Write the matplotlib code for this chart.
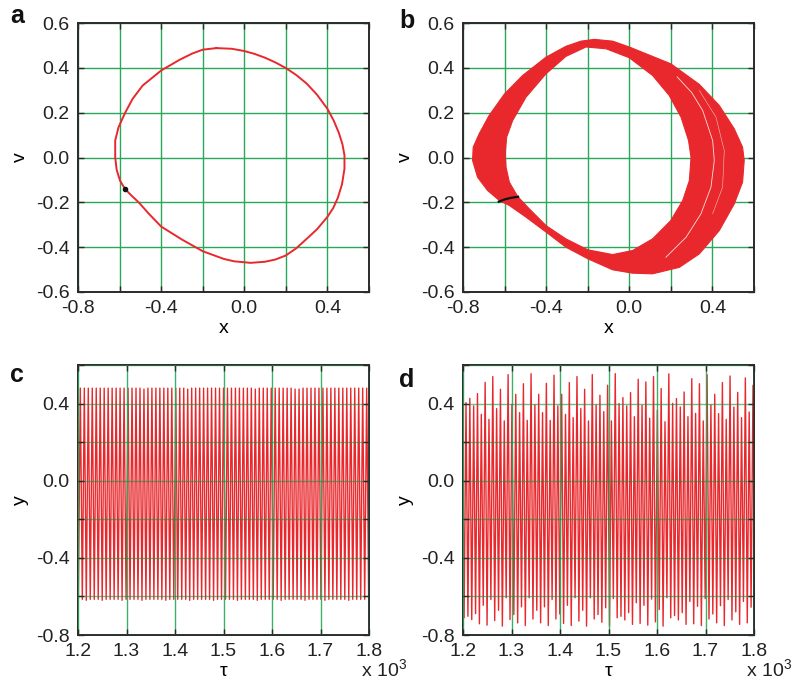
import numpy as np
import matplotlib
matplotlib.use("Agg")
import matplotlib.pyplot as plt
from matplotlib.path import Path
from matplotlib.patches import PathPatch

plt.rcParams['font.family'] = ['Liberation Sans', 'DejaVu Sans']
plt.rcParams['mathtext.fontset'] = 'custom'
plt.rcParams['mathtext.rm'] = 'Liberation Sans'

RED = '#e8282c'
GREEN = '#2aa85a'
INK = '#222222'

# ---- (a) periodic orbit in the (x, v) plane ----
a_x = [-0.134, -0.06, 0.0, 0.05, 0.1, 0.15, 0.2, 0.25, 0.3, 0.35, 0.4, 0.43, 0.455,
       0.472, 0.482, 0.482, 0.47, 0.45, 0.428, 0.4, 0.35, 0.3, 0.25, 0.2, 0.15, 0.1,
       0.03, -0.05, -0.1, -0.2, -0.3, -0.4, -0.46, -0.508, -0.545, -0.574, -0.598,
       -0.614, -0.621, -0.621, -0.605, -0.573, -0.537, -0.489, -0.4, -0.311, -0.25,
       -0.2, -0.134]
a_v = [0.488, 0.485, 0.475, 0.462, 0.445, 0.424, 0.399, 0.368, 0.33, 0.28, 0.217, 0.165,
       0.11, 0.06, 0.01, -0.05, -0.12, -0.18, -0.225, -0.265, -0.32, -0.363, -0.405,
       -0.437, -0.455, -0.465, -0.470, -0.463, -0.452, -0.418, -0.366, -0.308, -0.25,
       -0.2, -0.168, -0.14, -0.103, -0.055, 0.0, 0.076, 0.135, 0.2, 0.262, 0.321, 0.388,
       0.436, 0.464, 0.481, 0.488]
a_mark_x = [-0.574]
a_mark_v = [-0.140]

# ---- (b) chaotic band: outer and inner envelope ----
b_out_x = [-0.168, -0.080, 0.0, 0.2, 0.337, 0.433, 0.505, 0.545, 0.553, 0.545, 0.505,
           0.433, 0.337, 0.241, 0.112, 0.016, -0.080, -0.199, -0.305, -0.4, -0.497,
           -0.577, -0.625, -0.682, -0.730, -0.754, -0.751, -0.722, -0.674, -0.600,
           -0.513, -0.4, -0.305, -0.233]
b_out_v = [0.527, 0.519, 0.493, 0.418, 0.326, 0.232, 0.128, 0.046, -0.013, -0.110, -0.207,
           -0.326, -0.430, -0.490, -0.519, -0.516, -0.501, -0.452, -0.400, -0.333, -0.266,
           -0.214, -0.192, -0.147, -0.088, -0.013, 0.046, 0.106, 0.188, 0.284,
           0.366, 0.448, 0.496, 0.519]
b_in_x = [-0.208, -0.112, 0.0, 0.112, 0.192, 0.249, 0.285, 0.297, 0.289, 0.257, 0.2,
          0.112, 0.016, -0.080, -0.199, -0.305, -0.4, -0.481, -0.537, -0.577, -0.593,
          -0.597, -0.590, -0.561, -0.497, -0.401, -0.305]
b_in_v = [0.493, 0.485, 0.445, 0.366, 0.277, 0.180, 0.076, 0.0, -0.103, -0.192, -0.281,
          -0.363, -0.415, -0.433, -0.412, -0.363, -0.304, -0.229, -0.174, -0.110, -0.043,
          0.016, 0.091, 0.165, 0.269, 0.373, 0.451]
# thin unvisited strips inside the right part of the band
b_gap1_x = [0.230, 0.300, 0.353, 0.401, 0.409, 0.393, 0.345, 0.273, 0.176]
b_gap1_v = [0.360, 0.290, 0.210, 0.076, -0.013, -0.132, -0.251, -0.356, -0.445]
b_gap2_x = [0.337, 0.417, 0.457, 0.449, 0.401]
b_gap2_v = [0.299, 0.180, 0.031, -0.132, -0.251]
# section line
b_sec_x = [-0.628, -0.600, -0.570, -0.535]
b_sec_v = [-0.197, -0.187, -0.180, -0.175]

# ---- (c) periodic time series: successive minima / maxima of y ----
c_first_peak = 1204.8
c_period = 8.2
c_start = -0.06
c_peaks = [0.48, 0.48, 0.48, 0.48, 0.48, 0.48, 0.48, 0.48, 0.48, 0.48, 0.48, 0.48,
           0.48, 0.48, 0.48, 0.48, 0.475, 0.48, 0.48, 0.48, 0.48, 0.48, 0.48, 0.48,
           0.48, 0.48, 0.48, 0.475, 0.48, 0.48, 0.48, 0.48, 0.48, 0.48, 0.48, 0.48,
           0.48, 0.48, 0.48, 0.48, 0.48, 0.48, 0.48, 0.48, 0.475, 0.48, 0.48, 0.48,
           0.48, 0.48, 0.48, 0.48, 0.48, 0.48, 0.475, 0.475, 0.48, 0.48, 0.48, 0.48,
           0.48, 0.48, 0.48, 0.48, 0.48, 0.48, 0.48, 0.48, 0.48, 0.48, 0.48, 0.48, 0.48]
c_troughs = [-0.615, -0.615, -0.62, -0.615, -0.615, -0.615, -0.62, -0.615, -0.615, -0.615,
             -0.615, -0.62, -0.615, -0.615, -0.615, -0.615, -0.62, -0.615, -0.615, -0.615,
             -0.615, -0.615, -0.62, -0.615, -0.615, -0.615, -0.615, -0.615, -0.62, -0.615,
             -0.615, -0.615, -0.615, -0.615, -0.62, -0.615, -0.615, -0.615, -0.615, -0.615,
             -0.62, -0.615, -0.615, -0.615, -0.615, -0.62, -0.615, -0.615, -0.615, -0.615,
             -0.615, -0.62, -0.615, -0.615, -0.615, -0.615, -0.615, -0.62, -0.615, -0.615,
             -0.615, -0.615, -0.62, -0.615, -0.615, -0.615, -0.615, -0.615, -0.62, -0.615,
             -0.615, -0.615, -0.615, -0.615]

# ---- (d) chaotic time series: successive minima / maxima of y ----
d_first_peak = 1206.2
d_period = 7.89
d_start = 0.0
d_peaks = [0.405, 0.427, 0.388, 0.452, 0.344, 0.510, 0.318, 0.540, 0.374, 0.474,
           0.310, 0.550, 0.396, 0.448, 0.353, 0.503, 0.313, 0.555, 0.393,
           0.448, 0.353, 0.505, 0.313, 0.547, 0.388, 0.448, 0.344, 0.509, 0.327,
           0.540, 0.374, 0.474, 0.310, 0.550, 0.393, 0.443, 0.358,
           0.495, 0.310, 0.555, 0.400, 0.431, 0.388, 0.457, 0.332, 0.526, 0.391,
           0.512, 0.324, 0.540, 0.365, 0.478, 0.306, 0.554, 0.401, 0.426,
           0.382, 0.460, 0.332, 0.529, 0.349, 0.503, 0.310, 0.550, 0.393, 0.448,
           0.348, 0.509, 0.318, 0.543, 0.382, 0.458, 0.327, 0.533, 0.356, 0.495]
d_troughs = [-0.711, -0.703, -0.720, -0.689, -0.742, -0.646, -0.749, -0.616, -0.725, -0.672,
             -0.754, -0.607, -0.720, -0.694, -0.737, -0.654, -0.751, -0.607, -0.717, -0.672,
             -0.737, -0.654, -0.751, -0.616, -0.717, -0.691, -0.740, -0.646, -0.751, -0.607,
             -0.728, -0.672, -0.754, -0.607, -0.717, -0.694, -0.734, -0.659, -0.754, -0.611,
             -0.711, -0.703, -0.722, -0.684, -0.745, -0.633, -0.740, -0.646, -0.749, -0.614,
             -0.732, -0.668, -0.754, -0.607, -0.711, -0.699, -0.722, -0.684, -0.745, -0.626,
             -0.742, -0.651, -0.751, -0.611, -0.717, -0.691, -0.737, -0.648, -0.751, -0.616,
             -0.722, -0.680, -0.745, -0.626, -0.737, -0.656, -0.754]


def zigzag(start, first_peak, period, peaks, troughs):
    """Alternate minima and maxima half a period apart, starting at tau=1200."""
    t, y = [1200.0], [start]
    for i, p in enumerate(peaks):
        t.append(first_peak + (i - 0.5) * period)
        y.append(troughs[i])
        t.append(first_peak + i * period)
        y.append(p)
    t.append(first_peak + (len(peaks) - 0.5) * period)
    y.append(troughs[len(peaks)])
    return np.array(t), np.array(y)


def style_axes(ax):
    for s in ax.spines.values():
        s.set_linewidth(1.4)
        s.set_color('#2a2a2a')
    ax.tick_params(direction='in', top=True, right=True, length=4, width=1,
                   labelsize=14, colors='#2a2a2a', labelcolor=INK, pad=6)


fig = plt.figure(figsize=(7.94, 6.80), dpi=100)
W, H = 794.0, 680.0


def axes_px(l, t, r, b):
    return fig.add_axes([l / W, 1 - b / H, (r - l) / W, (b - t) / H])


ax_a = axes_px(78, 23, 369, 292)
ax_b = axes_px(463, 23, 754, 292)
ax_c = axes_px(78, 365, 369, 635)
ax_d = axes_px(463, 365, 754, 635)

# phase portraits
for ax in (ax_a, ax_b):
    ax.set_xlim(-0.8, 0.6)
    ax.set_ylim(-0.6, 0.6)
    ax.set_xticks(np.round(np.arange(-0.8, 0.61, 0.2), 1))
    ax.set_xticklabels(['-0.8', '', '-0.4', '', '0.0', '', '0.4', ''])
    ax.set_yticks(np.round(np.arange(-0.6, 0.61, 0.2), 1))
    ax.set_yticklabels(['-0.6', '-0.4', '-0.2', '0.0', '0.2', '0.4', '0.6'])
    ax.set_axisbelow(True)
    ax.grid(True, color=GREEN, linewidth=1.0)
    style_axes(ax)
    ax.set_xlabel('x', fontsize=14, labelpad=2)
    ax.set_ylabel('v', fontsize=14, labelpad=5)

ax_a.plot(a_x, a_v, color=RED, linewidth=1.4, zorder=3, solid_joinstyle='round')
ax_a.plot(a_mark_x, a_mark_v, 'o', color='#111111', markersize=3, zorder=4)

verts = list(zip(b_out_x, b_out_v)) + [(b_out_x[0], b_out_v[0])]
codes = [Path.MOVETO] + [Path.LINETO] * (len(b_out_x) - 1) + [Path.CLOSEPOLY]
inner = list(zip(b_in_x, b_in_v))[::-1]
verts += inner + [inner[0]]
codes += [Path.MOVETO] + [Path.LINETO] * (len(inner) - 1) + [Path.CLOSEPOLY]
band = PathPatch(Path(verts, codes), facecolor=RED, edgecolor=RED, linewidth=0.8,
                 joinstyle='round', zorder=3)
ax_b.add_patch(band)
ax_b.plot(b_gap1_x, b_gap1_v, color='white', linewidth=0.6, alpha=0.85, zorder=4)
ax_b.plot(b_gap2_x, b_gap2_v, color='white', linewidth=0.4, alpha=0.7, zorder=4)
ax_b.plot(b_sec_x, b_sec_v, color='#111111', linewidth=1.6, zorder=5)

# time series
series = [(ax_c, c_start, c_first_peak, c_period, c_peaks, c_troughs),
          (ax_d, d_start, d_first_peak, d_period, d_peaks, d_troughs)]
for ax, s0, fp, per, pk, tr in series:
    t, y = zigzag(s0, fp, per, pk, tr)
    ax.plot(t, y, color=RED, linewidth=1.0, zorder=2)
    ax.set_xlim(1200, 1800)
    ax.set_ylim(-0.8, 0.6)
    ax.set_xticks(np.arange(1200, 1801, 100))
    ax.set_xticklabels(['1.2', '1.3', '1.4', '1.5', '1.6', '1.7', '1.8'])
    ax.set_yticks(np.round(np.arange(-0.8, 0.61, 0.2), 1))
    ax.set_yticklabels(['-0.8', '', '-0.4', '', '0.0', '', '0.4', ''])
    ax.set_axisbelow(False)
    ax.grid(True, axis='x', color=GREEN, linewidth=1.0, alpha=0.9)
    ax.grid(True, axis='y', color='#1e8a3e', linewidth=1.0, alpha=0.6)
    style_axes(ax)
    ax.set_xlabel('τ', fontsize=14, labelpad=2)
    ax.set_ylabel('y', fontsize=14, labelpad=5)
    ax.text(1.0 - 8 / 291.0, -0.088, r'x 10$^{\mathregular{3}}$', transform=ax.transAxes,
            fontsize=14, ha='left', va='top', color=INK)

# panel letters (left edge, baseline) in pixels
letters = [('a', 10, 23), ('b', 399, 28), ('c', 10, 382), ('d', 399, 387)]
for letter, px, py in letters:
    fig.text(px / W, 1 - py / H, letter, fontsize=18, fontweight='bold',
             ha='left', va='baseline', color='#111111')

fig.savefig('out.png', dpi=100)
